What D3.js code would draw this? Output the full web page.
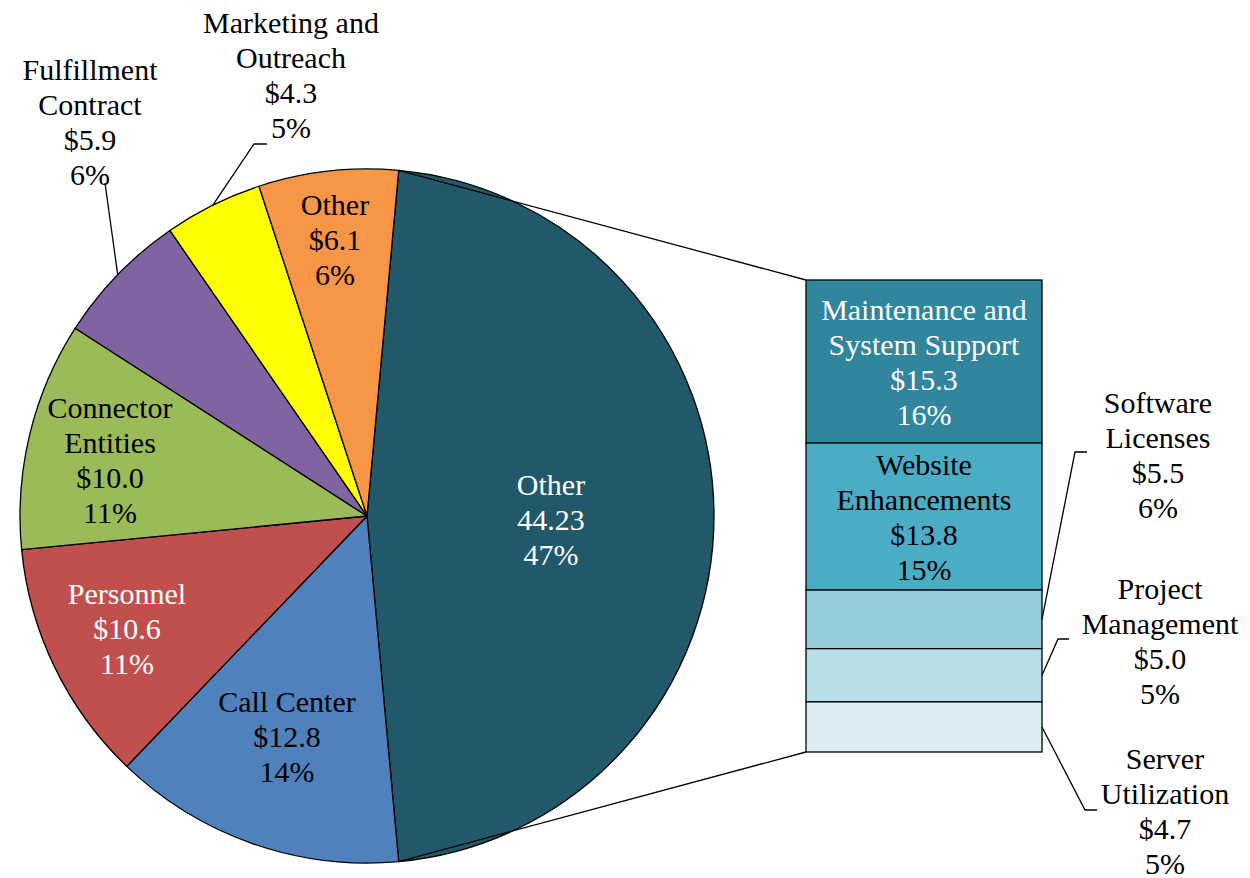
<!DOCTYPE html>
<html><head><meta charset="utf-8">
<script src="https://cdn.jsdelivr.net/npm/d3@7"></script>
<style>body{margin:0;background:#fff} text{font-family:"Liberation Serif","Times New Roman",Times,"DejaVu Serif",serif;}</style>
</head><body><svg id="c" width="1250" height="878"></svg>
<script>
// ---- data ----
const pieCategories = ["Other", "Call Center", "Personnel", "Connector Entities", "Fulfillment Contract", "Marketing and Outreach", "Other"];
const pieLabelLines = [["Other"], ["Call Center"], ["Personnel"], ["Connector", "Entities"], ["Fulfillment", "Contract"], ["Marketing and", "Outreach"], ["Other"]];
const pieValues = [44.23, 12.8, 10.6, 10.0, 5.9, 4.3, 6.1];
const pieColors = ["#22596A", "#4F81BD", "#C0504D", "#9BBB59", "#8064A2", "#FFFF00", "#F79646"];
const pieTextColors = ["#fff", "#000", "#fff", "#000", "#000", "#000", "#000"];

const barCategories = ["Maintenance and System Support", "Website Enhancements", "Software Licenses", "Project Management", "Server Utilization"];
const barLabelLines = [["Maintenance and", "System Support"], ["Website", "Enhancements"], ["Software", "Licenses"], ["Project", "Management"], ["Server", "Utilization"]];
const barValues = [15.3, 13.8, 5.5, 5.0, 4.7];
const barColors = ["#31859C", "#4BACC6", "#93CDDD", "#B7DEE8", "#DAEEF3"];
const barTextColors = ["#fff", "#000", "#000", "#000", "#000"];

// ---- layout ----
const cx = 367, cy = 516, R = 347;
const barX0 = 806, barX1 = 1042, barY0 = 280, barY1 = 752;
const lineH = 35, fontSize = 30;
// label block centres
const pieLabelPos = [[551, 520], [287, 737], [127, 629], [110, 460], [90, 122], [291, 75], [335, 240]];
const pieLeaderEnd = [null, null, null, null, [[105, 183]], [[254, 144], [267, 144]], null];
const barLabelPos = [[924, null], [924, null], [1158, 455], [1160, 641], [1165, 811]];
const barLeaderEnd = [null, null, [[1075, 452], [1087, 452]], [[1058, 639], [1069, 639]], [[1085, 810], [1097, 810]]];

const total = d3.sum(pieValues);
const fmt = d3.format(".1f");
const pct = v => Math.round(v / total * 100) + "%";

const svg = d3.select("#c");

const bigAngle = 2 * Math.PI * pieValues[0] / total;
const start = Math.PI / 2 - bigAngle / 2;
const pie = d3.pie().sort(null).startAngle(start).endAngle(start + 2 * Math.PI);
const arcs = pie(pieValues);
const arc = d3.arc().innerRadius(0).outerRadius(R);

const g = svg.append("g").attr("transform", `translate(${cx},${cy})`);
g.selectAll("path").data(arcs).join("path")
  .attr("d", arc)
  .attr("fill", (d, i) => pieColors[i])
  .attr("stroke", "#000").attr("stroke-width", 1.3).attr("stroke-linejoin", "round");

// connector lines pie -> bar
const edgePt = a => [cx + R * Math.sin(a), cy - R * Math.cos(a)];
const line = d3.line();
const pTop = edgePt(arcs[0].startAngle), pBot = edgePt(arcs[0].endAngle);
svg.append("path").attr("d", line([pTop, [barX0, barY0]])).attr("stroke", "#000").attr("stroke-width", 1.3).attr("fill", "none");
svg.append("path").attr("d", line([pBot, [barX0, barY1]])).attr("stroke", "#000").attr("stroke-width", 1.3).attr("fill", "none");

// bar
const barTotal = d3.sum(barValues);
const y = d3.scaleLinear().domain([0, barTotal]).range([barY0, barY1]);
const cum = d3.cumsum(barValues);
const segs = barValues.map((v, i) => ({v, i, y0: y(cum[i] - v), y1: y(cum[i])}));
svg.selectAll("rect.seg").data(segs).join("rect").attr("class", "seg")
  .attr("x", barX0).attr("width", barX1 - barX0)
  .attr("y", d => d.y0).attr("height", d => d.y1 - d.y0)
  .attr("fill", d => barColors[d.i])
  .attr("stroke", "#000").attr("stroke-width", 1.3);

function block(x, yc, lines, color) {
  const n = lines.length;
  const t = svg.append("text").attr("text-anchor", "middle")
    .attr("font-size", fontSize).attr("fill", color);
  lines.forEach((s, k) => {
    t.append("tspan").attr("x", x).attr("y", yc + (k - (n - 1) / 2) * lineH + 10).text(s);
  });
}

// pie labels
arcs.forEach((a, i) => {
  const val = i === 0 ? String(pieValues[0]) : "$" + fmt(pieValues[i]);
  const lines = pieLabelLines[i].concat([val, pct(pieValues[i])]);
  const [lx, ly] = pieLabelPos[i];
  if (pieLeaderEnd[i]) {
    const mid = (a.startAngle + a.endAngle) / 2;
    const pts = [edgePt(mid)].concat(pieLeaderEnd[i]);
    svg.append("path").attr("d", line(pts)).attr("stroke", "#000").attr("stroke-width", 1.3).attr("fill", "none");
  }
  block(lx, ly, lines, pieTextColors[i]);
});

// bar labels
segs.forEach((s, i) => {
  const lines = barLabelLines[i].concat(["$" + fmt(s.v), pct(s.v)]);
  const mid = (s.y0 + s.y1) / 2;
  const [lx, lyRaw] = barLabelPos[i];
  const ly = lyRaw === null ? mid + 1 : lyRaw;
  if (barLeaderEnd[i]) {
    const pts = [[barX1, mid]].concat(barLeaderEnd[i]);
    svg.append("path").attr("d", line(pts)).attr("stroke", "#000").attr("stroke-width", 1.3).attr("fill", "none");
  }
  block(lx, ly, lines, barTextColors[i]);
});
</script></body></html>
